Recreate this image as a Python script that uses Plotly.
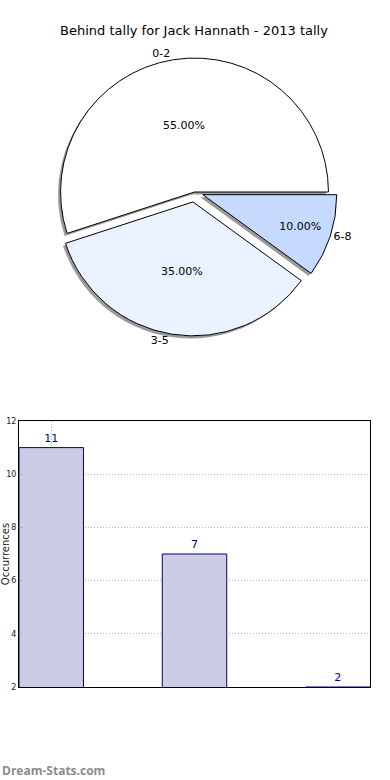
import plotly.graph_objects as go

categories = ["0-2", "3-5", "6-8"]
counts = [11, 7, 2]
pie_colors = ["#FFFFFF", "#EBF2FF", "#C6D9FF"]
pulls = [0.0, 0.075, 0.065]
yticks = [2, 4, 6, 8, 10, 12]

W, H = 390, 780
ML, MR = 19, 20
PW = W - ML - MR

def px_y(py):
    return 1 - py / H

pie_dom_y = [px_y(336), px_y(48)]
pie_dom_x = [0.05, 0.95]

fig = go.Figure()

# shadow
fig.add_trace(go.Pie(
    labels=categories, values=counts, sort=False, direction="counterclockwise",
    rotation=252, pull=pulls,
    marker=dict(colors=["#9a9a9a"] * 3, line=dict(width=0)),
    textinfo="none", hoverinfo="skip", showlegend=False, automargin=False,
    domain=dict(x=[pie_dom_x[0] - 2.5 / PW, pie_dom_x[1] - 2.5 / PW],
                y=[pie_dom_y[0] - 2.5 / H, pie_dom_y[1] - 2.5 / H]),
))
# main pie with percentages
fig.add_trace(go.Pie(
    labels=categories, values=counts, sort=False, direction="counterclockwise",
    rotation=252, pull=pulls,
    marker=dict(colors=pie_colors, line=dict(color="black", width=1)),
    texttemplate="%{percent:.2%}", textposition="inside",
    insidetextorientation="horizontal", automargin=False,
    textfont=dict(family="DejaVu Sans", size=11, color="black"),
    showlegend=False, domain=dict(x=pie_dom_x, y=pie_dom_y),
))
# outside labels
fig.add_trace(go.Pie(
    labels=categories, values=counts, sort=False, direction="counterclockwise",
    rotation=252, pull=pulls,
    marker=dict(colors=["rgba(0,0,0,0)"] * 3, line=dict(width=0)),
    textinfo="label", textposition="outside", automargin=False,
    textfont=dict(family="DejaVu Sans", size=11, color="black"),
    hoverinfo="skip", showlegend=False, domain=dict(x=pie_dom_x, y=pie_dom_y),
))

fig.add_trace(go.Bar(
    x=list(range(len(categories))), y=counts, width=0.45,
    marker=dict(color="#CCCCE5", line=dict(color="#000080", width=1)),
    text=counts, textposition="outside", cliponaxis=False,
    textfont=dict(family="DejaVu Sans", size=11, color="#000080"),
    showlegend=False, xaxis="x", yaxis="y",
))

grid_dash = "1px,2px"
fig.update_layout(
    width=W, height=H,
    margin=dict(l=ML, r=MR, t=0, b=0, autoexpand=False),
    paper_bgcolor="white", plot_bgcolor="white",
    title=dict(text="Behind tally for Jack Hannath - 2013 tally",
               x=194 / W, xanchor="center", y=px_y(30), yanchor="middle",
               font=dict(family="DejaVu Sans", size=13, color="black")),
    xaxis=dict(domain=[0, 1], range=[-0.225, 2.225], tickvals=[0],
               showticklabels=False, showgrid=True, gridcolor="#aaaaaa",
               griddash=grid_dash, gridwidth=1, showline=True, linecolor="black",
               mirror=True, ticks="", zeroline=False, anchor="y", automargin=False),
    yaxis=dict(domain=[px_y(687), px_y(421)], range=[2, 12], tickvals=yticks,
               showgrid=True, gridcolor="#b8b8b8", griddash=grid_dash, gridwidth=1,
               showline=True, linecolor="black", mirror=True, ticks="inside",
               ticklen=3, tickcolor="#999", zeroline=False,
               tickfont=dict(family="DejaVu Sans", size=8, color="#222"),
               title=dict(text="Occurrences", standoff=8,
                          font=dict(family="DejaVu Sans", size=10, color="#222")),
               automargin=False, anchor="x"),
    annotations=[dict(text="<b>Dream-Stats.com</b>", x=0, xref="paper",
                      xanchor="left", xshift=-ML, y=px_y(770), yref="paper",
                      yanchor="middle", showarrow=False,
                      font=dict(family="Open Sans", size=12, color="#8c8c8c"))],
)

fig.write_html("out.html", config={"displayModeBar": False},
               post_script="document.body.style.margin='0';document.body.style.overflow='hidden';")
